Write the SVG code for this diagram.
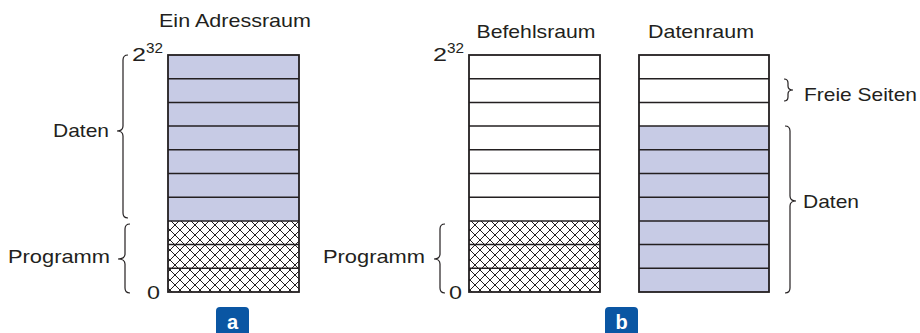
<svg xmlns="http://www.w3.org/2000/svg" width="920" height="333" viewBox="0 0 920 333">
  <defs>
    <pattern id="hatch" patternUnits="userSpaceOnUse" x="0" y="0" width="10" height="10">
      <path d="M0 0 L10 10 M10 0 L0 10 M-1 9 L1 11 M9 -1 L11 1" stroke="#231f20" stroke-width="1" fill="none"/>
    </pattern>
    <style>
      .lbl { font-family: "Liberation Sans", Arial, sans-serif; font-size: 19px; fill: #231f20; }
      .sup { font-family: "Liberation Sans", Arial, sans-serif; font-size: 14px; fill: #231f20; }
      .tag { font-family: "Liberation Sans", Arial, sans-serif; font-size: 20px; font-weight: bold; fill: #ffffff; }
      .frame { fill: none; stroke: #231f20; stroke-width: 1.8; }
      .row { stroke: #231f20; stroke-width: 1.5; }
      .data { fill: #c7cbe5; }
      .free { fill: #ffffff; }
      .prog { fill: url(#hatch); }
      .brace { fill: none; stroke: #231f20; stroke-width: 1.2; }
      .badge { fill: #0a56a3; }
    </style>
  </defs>

  <!-- (a) single address space -->
  <g id="address-space">
    <text class="lbl" x="235" y="27" text-anchor="middle" textLength="152" lengthAdjust="spacingAndGlyphs">Ein Adressraum</text>
    <rect class="data" x="168" y="55" width="131" height="166"/>
    <rect class="prog" x="168" y="221" width="131" height="71"/>
    <g class="row">
      <line x1="168" y1="78.7" x2="299" y2="78.7"/>
      <line x1="168" y1="102.4" x2="299" y2="102.4"/>
      <line x1="168" y1="126.1" x2="299" y2="126.1"/>
      <line x1="168" y1="149.8" x2="299" y2="149.8"/>
      <line x1="168" y1="173.5" x2="299" y2="173.5"/>
      <line x1="168" y1="197.2" x2="299" y2="197.2"/>
      <line x1="168" y1="221" x2="299" y2="221"/>
      <line x1="168" y1="244.6" x2="299" y2="244.6"/>
      <line x1="168" y1="268.3" x2="299" y2="268.3"/>
    </g>
    <rect class="frame" x="168" y="55" width="131" height="237"/>
    <text class="lbl" x="132" y="61" textLength="14" lengthAdjust="spacingAndGlyphs">2</text>
    <text class="sup" x="146" y="53" textLength="17" lengthAdjust="spacingAndGlyphs">32</text>
    <text class="lbl" x="147" y="299" textLength="13" lengthAdjust="spacingAndGlyphs">0</text>
  </g>

  <g id="a-data-label">
    <text class="lbl" x="53" y="137" textLength="56" lengthAdjust="spacingAndGlyphs">Daten</text>
  </g>
  <g id="a-program-label">
    <text class="lbl" x="8" y="263" textLength="102" lengthAdjust="spacingAndGlyphs">Programm</text>
  </g>

  <!-- (b) separate instruction and data spaces -->
  <g id="instruction-space">
    <text class="lbl" x="536" y="38" text-anchor="middle" textLength="119" lengthAdjust="spacingAndGlyphs">Befehlsraum</text>
    <rect class="free" x="469" y="55" width="131" height="166"/>
    <rect class="prog" x="469" y="221" width="131" height="71"/>
    <g class="row">
      <line x1="469" y1="78.7" x2="600" y2="78.7"/>
      <line x1="469" y1="102.4" x2="600" y2="102.4"/>
      <line x1="469" y1="126.1" x2="600" y2="126.1"/>
      <line x1="469" y1="149.8" x2="600" y2="149.8"/>
      <line x1="469" y1="173.5" x2="600" y2="173.5"/>
      <line x1="469" y1="197.2" x2="600" y2="197.2"/>
      <line x1="469" y1="221" x2="600" y2="221"/>
      <line x1="469" y1="244.6" x2="600" y2="244.6"/>
      <line x1="469" y1="268.3" x2="600" y2="268.3"/>
    </g>
    <rect class="frame" x="469" y="55" width="131" height="237"/>
    <text class="lbl" x="433" y="61" textLength="14" lengthAdjust="spacingAndGlyphs">2</text>
    <text class="sup" x="447" y="53" textLength="17" lengthAdjust="spacingAndGlyphs">32</text>
    <text class="lbl" x="449" y="299" textLength="13" lengthAdjust="spacingAndGlyphs">0</text>
  </g>

  <g id="b-program-label">
    <text class="lbl" x="323" y="263" textLength="102" lengthAdjust="spacingAndGlyphs">Programm</text>
  </g>

  <g id="data-space">
    <text class="lbl" x="701" y="38" text-anchor="middle" textLength="106" lengthAdjust="spacingAndGlyphs">Datenraum</text>
    <rect class="free" x="639" y="55" width="130" height="71"/>
    <rect class="data" x="639" y="126" width="130" height="166"/>
    <g class="row">
      <line x1="639" y1="78.7" x2="769" y2="78.7"/>
      <line x1="639" y1="102.4" x2="769" y2="102.4"/>
      <line x1="639" y1="126.1" x2="769" y2="126.1"/>
      <line x1="639" y1="149.8" x2="769" y2="149.8"/>
      <line x1="639" y1="173.5" x2="769" y2="173.5"/>
      <line x1="639" y1="197.2" x2="769" y2="197.2"/>
      <line x1="639" y1="221" x2="769" y2="221"/>
      <line x1="639" y1="244.6" x2="769" y2="244.6"/>
      <line x1="639" y1="268.3" x2="769" y2="268.3"/>
    </g>
    <rect class="frame" x="639" y="55" width="130" height="237"/>
  </g>

  <g id="free-pages-label">
    <text class="lbl" x="804" y="101" textLength="113" lengthAdjust="spacingAndGlyphs">Freie Seiten</text>
  </g>
  <g id="b-data-label">
    <text class="lbl" x="803" y="208" textLength="56" lengthAdjust="spacingAndGlyphs">Daten</text>
  </g>

  <!-- braces -->
  <g id="braces" class="brace">
    <!-- left-facing: a data -->
    <path d="M128 55 Q123 55 123 60 L123 126 Q123 131 117 131 Q123 131 123 136 L123 213 Q123 218 128 218"/>
    <!-- left-facing: a program -->
    <path d="M130 224 Q125 224 125 229 L125 254 Q125 259 118 259 Q125 259 125 264 L125 288 Q125 293 130 293"/>
    <!-- left-facing: b program -->
    <path d="M445 224 Q440 224 440 229 L440 254 Q440 259 434 259 Q440 259 440 264 L440 288 Q440 293 445 293"/>
    <!-- right-facing: free pages -->
    <path d="M784 79 Q788 79 788 83 L788 86 Q788 90 793 90 Q788 90 788 94 L788 97 Q788 101 784 101"/>
    <!-- right-facing: b data -->
    <path d="M785 126 Q790 126 790 131 L790 196 Q790 201 796 201 Q790 201 790 206 L790 288 Q790 293 785 293"/>
  </g>

  <!-- sub-figure tags -->
  <g id="tag-a">
    <rect class="badge" x="216" y="307" width="33" height="32" rx="4"/>
    <text class="tag" x="232.5" y="329" text-anchor="middle">a</text>
  </g>
  <g id="tag-b">
    <rect class="badge" x="605" y="307" width="33" height="32" rx="4"/>
    <text class="tag" x="621.5" y="329" text-anchor="middle">b</text>
  </g>
</svg>
